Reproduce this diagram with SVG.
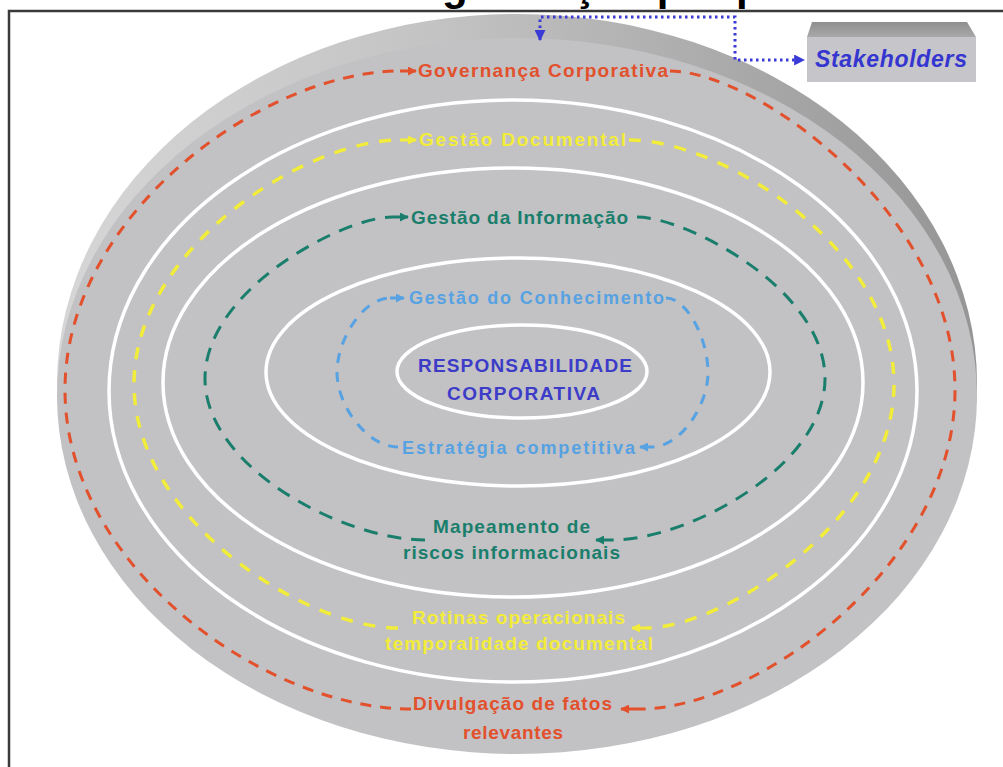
<svg xmlns="http://www.w3.org/2000/svg" width="1003" height="767" viewBox="0 0 1003 767">
<style>
.lbl{font-family:"Liberation Sans",Arial,sans-serif;font-weight:bold;font-size:19px}
.ring{fill:none;stroke:#ffffff;stroke-width:3.5}
.red{fill:none;stroke:#e2502c;stroke-width:3;stroke-dasharray:11 9}
.yel{fill:none;stroke:#f2ec3a;stroke-width:3.5;stroke-dasharray:12 11}
.grn{fill:none;stroke:#1a7e6c;stroke-width:3;stroke-dasharray:14 10}
.blu{fill:none;stroke:#56a2e2;stroke-width:3;stroke-dasharray:10 9}
.dot{fill:none;stroke:#3a3ad6;stroke-width:3;stroke-dasharray:2.5 3.5}
</style>
<defs>
<linearGradient id="rim" x1="0" y1="0" x2="1" y2="0">
<stop offset="0" stop-color="#d6d6d6"/><stop offset="0.4" stop-color="#c4c4c4"/><stop offset="1" stop-color="#959595"/>
</linearGradient>
<linearGradient id="boxtop" x1="0" y1="0" x2="0" y2="1">
<stop offset="0" stop-color="#8f8f8f"/><stop offset="1" stop-color="#a8a8a8"/>
</linearGradient>
<marker id="ah-red" viewBox="0 0 10 10" refX="9" refY="5" markerWidth="9" markerHeight="9" markerUnits="userSpaceOnUse" orient="auto"><path d="M0,0 L10,5 L0,10 z" fill="#e2502c"/></marker>
<marker id="ah-yel" viewBox="0 0 10 10" refX="9" refY="5" markerWidth="9" markerHeight="9" markerUnits="userSpaceOnUse" orient="auto"><path d="M0,0 L10,5 L0,10 z" fill="#f2ec3a"/></marker>
<marker id="ah-grn" viewBox="0 0 10 10" refX="9" refY="5" markerWidth="9" markerHeight="9" markerUnits="userSpaceOnUse" orient="auto"><path d="M0,0 L10,5 L0,10 z" fill="#1a7e6c"/></marker>
<marker id="ah-blu" viewBox="0 0 10 10" refX="9" refY="5" markerWidth="9" markerHeight="9" markerUnits="userSpaceOnUse" orient="auto"><path d="M0,0 L10,5 L0,10 z" fill="#56a2e2"/></marker>
<marker id="ah-dot" viewBox="0 0 10 10" refX="9" refY="5" markerWidth="11" markerHeight="11" markerUnits="userSpaceOnUse" orient="auto-start-reverse"><path d="M0,0 L10,5 L0,10 z" fill="#3a3ad6"/></marker>
</defs>
<rect x="0" y="0" width="1003" height="767" fill="#ffffff"/>
<text x="393" y="-0.5" style="font-family:'Liberation Sans',Arial,sans-serif;font-weight:bold;font-size:42px" fill="#000">Organização por processos</text>
<path d="M9,767 V11 H1003" fill="none" stroke="#3a3a3a" stroke-width="2.5"/>

<g id="disc">
<ellipse cx="517" cy="383" rx="460" ry="369" fill="url(#rim)"/>
<ellipse cx="517" cy="396" rx="460" ry="358" fill="#c2c1c4"/>
</g>
<g id="rings">
<ellipse class="ring" cx="513" cy="391" rx="404" ry="291"/>
<ellipse class="ring" cx="513" cy="382.5" rx="350" ry="214.5"/>
<ellipse class="ring" cx="518" cy="372" rx="252" ry="114"/>
<ellipse class="ring" cx="522" cy="371.5" rx="125" ry="46.5"/>
</g>

<g id="connectors">
<path class="red" d="M670,71 C755.6,71 955,214 955,390 C955,566 755.6,709 640,709"/>
<path class="red" d="M411,709 C264.4,709 65,566 65,390 C65,214 264.4,71 400,71"/>
<path d="M400,71 H416" stroke="#e2502c" stroke-width="3" marker-end="url(#ah-red)"/>
<path d="M640,709 H621" stroke="#e2502c" stroke-width="3" marker-end="url(#ah-red)"/>

<path class="yel" d="M629,140 C723.8,140 894,249.3 894,384 C894,518.7 723.8,628 646,628"/>
<path class="yel" d="M398,628 C304.2,628 134,518.7 134,384 C134,249.3 304.2,140 400,140"/>
<path d="M400,140 H416" stroke="#f2ec3a" stroke-width="3" marker-end="url(#ah-yel)"/>
<path d="M646,628 H632" stroke="#f2ec3a" stroke-width="3" marker-end="url(#ah-yel)"/>

<path class="grn" d="M637,217 C686,217 825,289.3 825,378.5 C825,467.7 686,540 613,540"/>
<path class="grn" d="M425,540 C344,540 205,467.7 205,378.5 C205,289.3 344,217 392,217"/>
<path d="M392,217 H408" stroke="#1a7e6c" stroke-width="3" marker-end="url(#ah-grn)"/>
<path d="M613,540 H596" stroke="#1a7e6c" stroke-width="3" marker-end="url(#ah-grn)"/>

<path class="blu" d="M666,298 C687,298 708,339 708,372.5 C708,406 680,447 652,447"/>
<path class="blu" d="M398,447 C367.5,447 337,406 337,372.5 C337,339 363.5,298 390,298"/>
<path d="M390,298 H404" stroke="#56a2e2" stroke-width="3" marker-end="url(#ah-blu)"/>
<path d="M652,447 H640" stroke="#56a2e2" stroke-width="3" marker-end="url(#ah-blu)"/>

<path class="dot" d="M540,40 V17 H735 V60 H804" marker-start="url(#ah-dot)" marker-end="url(#ah-dot)"/>
</g>

<g id="governanca"><text class="lbl" x="418" y="77" textLength="250" lengthAdjust="spacing" fill="#e2502c">Governança Corporativa</text></g>
<g id="gestao-documental"><text class="lbl" x="419" y="146" textLength="207" lengthAdjust="spacing" fill="#f2ec3a">Gestão Documental</text></g>
<g id="gestao-informacao"><text class="lbl" x="411" y="224" textLength="217" lengthAdjust="spacing" fill="#1a7e6c">Gestão da Informação</text></g>
<g id="gestao-conhecimento"><text class="lbl" x="409" y="304" textLength="255" lengthAdjust="spacing" fill="#56a2e2" style="font-size:18px">Gestão do Conhecimento</text></g>
<g id="responsabilidade">
<text class="lbl" x="418" y="372" textLength="214" lengthAdjust="spacing" fill="#3c3cc8">RESPONSABILIDADE</text>
<text class="lbl" x="447" y="400" textLength="153" lengthAdjust="spacing" fill="#3c3cc8">CORPORATIVA</text>
</g>
<g id="estrategia"><text class="lbl" x="402" y="454" textLength="233" lengthAdjust="spacing" fill="#56a2e2" style="font-size:18px">Estratégia competitiva</text></g>
<g id="mapeamento">
<text class="lbl" x="433" y="533" textLength="157" lengthAdjust="spacing" fill="#1a7e6c">Mapeamento de</text>
<text class="lbl" x="403" y="559" textLength="217" lengthAdjust="spacing" fill="#1a7e6c">riscos informacionais</text>
</g>
<g id="rotinas">
<text class="lbl" x="412" y="624" textLength="213" lengthAdjust="spacing" fill="#f2ec3a">Rotinas operacionais</text>
<text class="lbl" x="385" y="650" textLength="268" lengthAdjust="spacing" fill="#f2ec3a">temporalidade documental</text>
</g>
<g id="divulgacao">
<text class="lbl" x="413" y="710" textLength="199" lengthAdjust="spacing" fill="#e2502c">Divulgação de fatos</text>
<text class="lbl" x="463" y="739" textLength="100" lengthAdjust="spacing" fill="#e2502c">relevantes</text>
</g>
<g id="stakeholders">
<polygon points="812,22 967,22 976,37 807,37" fill="url(#boxtop)"/>
<rect x="807" y="37" width="169" height="45" fill="#c6c6ca"/>
<text x="815" y="67" textLength="152" lengthAdjust="spacing" style="font-family:'Liberation Sans',Arial,sans-serif;font-weight:bold;font-style:italic;font-size:23px" fill="#3535d0">Stakeholders</text>
</g>
</svg>
